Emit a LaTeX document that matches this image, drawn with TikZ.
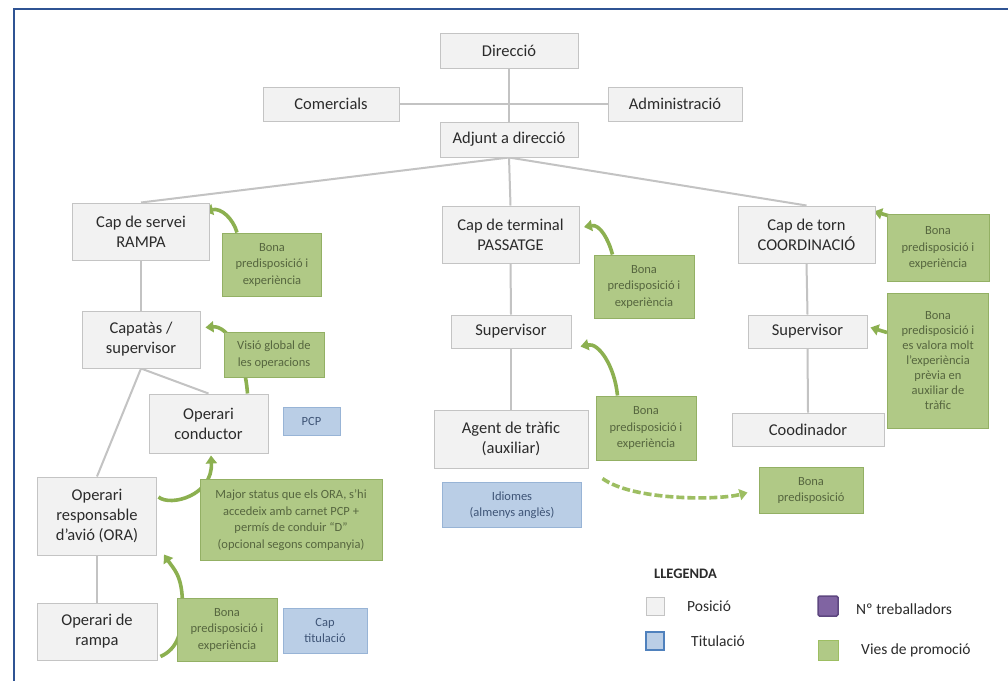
\documentclass[tikz,border=0pt]{standalone}
\usepackage{fontspec}
\setmainfont{Carlito}
\usetikzlibrary{arrows.meta,backgrounds}
\definecolor{posfill}{HTML}{F2F2F2}
\definecolor{posline}{HTML}{C4C4C4}
\definecolor{postext}{HTML}{2B2B2B}
\definecolor{promfill}{HTML}{B0C986}
\definecolor{promline}{HTML}{93B064}
\definecolor{promtext}{HTML}{56663F}
\definecolor{titfill}{HTML}{BACEE6}
\definecolor{titline}{HTML}{98B4D6}
\definecolor{tittext}{HTML}{3E5476}
\definecolor{linkc}{HTML}{C3C3C3}
\definecolor{arrowc}{HTML}{8CB050}
\definecolor{dasharc}{HTML}{9DBE62}
\definecolor{framec}{HTML}{2F5393}
\definecolor{purplef}{HTML}{8064A2}
\definecolor{purplel}{HTML}{5E4780}
\definecolor{swblue}{HTML}{4F81BD}
\begin{document}
\begin{tikzpicture}[x=1pt,y=-1pt,
  posbox/.style={draw=posline, fill=posfill, line width=1pt, align=center, inner sep=1pt,
    font=\fontsize{16.5}{20}\selectfont, text=postext},
  prombox/.style={draw=promline, fill=promfill, line width=1pt, align=center, inner sep=1pt,
    font=\fontsize{12.5}{16.5}\selectfont, text=promtext},
  titbox/.style={draw=titline, fill=titfill, line width=1pt, align=center, inner sep=1pt,
    font=\fontsize{12.5}{16.5}\selectfont, text=tittext},
  link/.style={draw=linkc, line width=2pt},
  parrow/.style={draw=arrowc, line width=3.6pt, -{Triangle[length=8pt,width=11pt]}},
  darrow/.style={draw=dasharc, line width=3.6pt, dash pattern=on 8pt off 3pt, -{Triangle[length=8pt,width=11pt]}},
  swatch/.style={minimum width=18pt, minimum height=18pt, inner sep=0pt, line width=1pt},
  legtext/.style={anchor=west, inner sep=0pt, font=\fontsize{15.5}{18}\selectfont, text=postext}
]
\useasboundingbox (0,0) rectangle (1008,680);

% frame
\draw[framec, line width=2.5pt] (14,700) -- (14,9) -- (1020,9);

% positions
\node[posbox, minimum width=138pt, minimum height=35pt] (dir) at (509,50.5) {Direcció};
\node[posbox, minimum width=136pt, minimum height=34pt] (com) at (331,104) {Comercials};
\node[posbox, minimum width=134pt, minimum height=34pt] (adm) at (675,104) {Administració};
\node[posbox, minimum width=138pt, minimum height=35pt] (adj) at (509,139.5) {Adjunt a direcció};

\node[posbox, minimum width=137pt, minimum height=57pt] (rampa) at (141,231.5) {Cap de servei\\RAMPA};
\node[posbox, minimum width=137pt, minimum height=57pt] (pass) at (510.5,234.5) {Cap de terminal\\PASSATGE};
\node[posbox, minimum width=137pt, minimum height=57pt] (coord) at (806.5,234.5) {Cap de torn\\COORDINACIÓ};

\node[posbox, minimum width=118pt, minimum height=57pt] (capa) at (141,339.5) {Capatàs /\\supervisor};
\node[posbox, minimum width=119pt, minimum height=59pt] (cond) at (208.5,423.5) {Operari\\conductor};
\node[posbox, minimum width=119pt, minimum height=78pt] (ora) at (97,516) {Operari\\responsable\\d’avió (ORA)};
\node[posbox, minimum width=120pt, minimum height=57pt] (oprampa) at (97,631.5) {Operari de\\rampa};

\node[posbox, minimum width=120pt, minimum height=33pt] (sup1) at (511,331.5) {Supervisor};
\node[posbox, minimum width=154pt, minimum height=58pt] (agent) at (511,439) {Agent de tràfic\\(auxiliar)};

\node[posbox, minimum width=119pt, minimum height=33pt] (sup2) at (807.5,331.5) {Supervisor};
\node[posbox, minimum width=152pt, minimum height=33pt] (coodi) at (808,429.5) {Coodinador};

% promotion boxes
\node[prombox, minimum width=99pt, minimum height=63pt] (g1) at (272,264.5) {Bona\\predisposició i\\experiència};
\node[prombox, minimum width=100pt, minimum height=45pt] (g2) at (274,354.5) {Visió global de\\les operacions};
\node[prombox, minimum width=182pt, minimum height=81pt] (g3) at (291,520) {Major status que els ORA, s’hi\\accedeix amb carnet PCP +\\permís de conduir “D”\\(opcional segons companyia)};
\node[prombox, minimum width=100pt, minimum height=63pt] (g4) at (227,629.5) {Bona\\predisposició i\\experiència};
\node[prombox, minimum width=100pt, minimum height=63pt] (g5) at (644,286.5) {Bona\\predisposició i\\experiència};
\node[prombox, minimum width=100pt, minimum height=64pt] (g6) at (646,428) {Bona\\predisposició i\\experiència};
\node[prombox, minimum width=104pt, minimum height=46pt] (g7) at (811,490.5) {Bona\\predisposició};
\node[prombox, minimum width=102pt, minimum height=67pt] (g8) at (938,248) {Bona\\predisposició i\\experiència};
\node[prombox, minimum width=101pt, minimum height=135pt, font=\fontsize{12.5}{15}\selectfont] (g9) at (938,360.5) {Bona\\predisposició i\\es valora molt\\l’experiència\\prèvia en\\auxiliar de\\tràfic};

% qualification boxes
\node[titbox, minimum width=57pt, minimum height=28pt] (pcp) at (311.5,421) {PCP};
\node[titbox, minimum width=139pt, minimum height=45pt] (idi) at (512,505) {Idiomes\\(almenys anglès)};
\node[titbox, minimum width=84pt, minimum height=45pt] (cti) at (325,630.5) {Cap\\titulació};

% legend
\node[anchor=west, inner sep=0pt, font=\bfseries\fontsize{14.5}{17}\selectfont, text=postext] (leg) at (654,574) {LLEGENDA};
\node[swatch, draw=posline, fill=posfill] (sw1) at (655,606.5) {};
\node[legtext] (lt1) at (687,606) {Posició};
\node[swatch, draw=swblue, fill=titfill, line width=1.5pt] (sw2) at (655,641) {};
\node[legtext] (lt2) at (691,641) {Titulació};
\node[swatch, draw=purplel, fill=purplef, rounded corners=1.5pt, line width=1.5pt, minimum width=20pt, minimum height=20pt] (sw3) at (828,606) {};
\node[legtext] (lt3) at (856,609) {Nº treballadors};
\node[swatch, draw=dasharc, fill=promfill, minimum width=20pt, minimum height=20pt] (sw4) at (828,650) {};
\node[legtext] (lt4) at (861,650) {Vies de promoció};

\begin{scope}[on background layer]
\fill[white] (0,0) rectangle (1008,680);
% hierarchy links
\draw[link] (dir.south) -- (adj.north);
\draw[link] (com.east) -- (adm.west);
\draw[link] (adj.south) -- (rampa.north);
\draw[link] (adj.south) -- (pass.north);
\draw[link] (adj.south) -- (coord.north);
\draw[link] (rampa.south) -- (capa.north);
\draw[link] (capa.south) -- (cond.north);
\draw[link] (capa.south) -- (ora.north);
\draw[link] (ora.south) -- (oprampa.north);
\draw[link] (pass.south) -- (sup1.north);
\draw[link] (sup1.south) -- (agent.north);
\draw[link] (coord.south) -- (sup2.north);
\draw[link] (sup2.south) -- (coodi.north);

% promotion arrows
\draw[parrow] ([shift={(15,0)}]g1.north west) .. controls +(-4,-14) and +(16,-4) .. ([shift={(-5,-20)}]rampa.east);
\draw[parrow] ([shift={(-21,0)}]cond.north east) .. controls +(-3,-40) and +(22,-2) .. ([shift={(5,-12)}]capa.east);
\draw[parrow] ([shift={(1.5,-19)}]ora.east) .. controls +(12,10) and +(2,40) .. ([shift={(2.5,2)}]cond.south);
\draw[parrow] ([shift={(3,25)}]oprampa.east) .. controls +(18,-8) and +(0,25) .. ([shift={(6,8)}]g4.north west) .. controls +(0,-30) and +(10,15) .. ([shift={(7,-1)}]ora.south east);
\draw[parrow] ([shift={(19,0)}]g5.north west) .. controls +(-4,-15) and +(16,-3) .. ([shift={(4.5,-7.5)}]pass.east);
\draw[parrow] ([shift={(22,0)}]g6.north west) .. controls +(-3,-30) and +(18,-4) .. ([shift={(9,-2)}]sup1.south east);
\draw[parrow] ([shift={(3,2)}]g8.north west) -- ([shift={(-1.5,6)}]coord.north east);
\draw[parrow] ([shift={(0,-28)}]g9.west) -- ([shift={(3,-4)}]sup2.east);
\draw[darrow] ([shift={(14,10)}]agent.south east) .. controls +(30,22) and +(-30,8) .. ([shift={(-11,2)}]g7.west);
\end{scope}
\end{tikzpicture}
\end{document}
